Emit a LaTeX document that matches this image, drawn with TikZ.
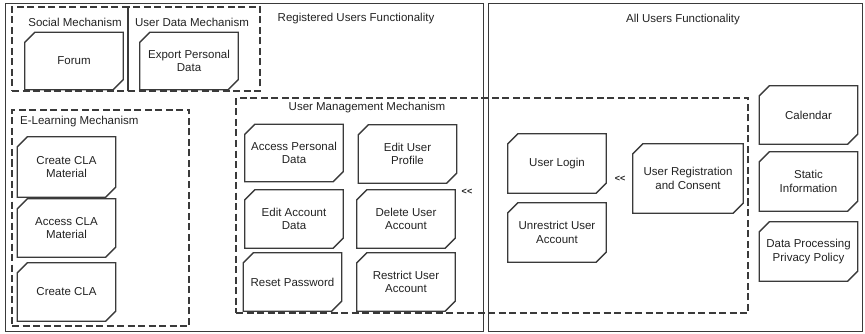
\documentclass[tikz,border=0pt]{standalone}
\usepackage{fontspec}
\setmainfont{Liberation Sans}
\definecolor{ln}{HTML}{3A3A3A}
\definecolor{tx}{HTML}{222222}
\tikzset{
  fnline/.style={draw=ln, line width=1.3pt, line join=miter},
  fn/.style={rectangle, minimum width=98pt, minimum height=58pt, inner sep=2pt, align=center,
    font=\fontsize{11.5}{13.6}\selectfont, text=tx,
    append after command={\pgfextra{\draw[fnline]
      ([yshift=-10pt]\tikzlastnode.north west) -- ([xshift=10pt]\tikzlastnode.north west)
      -- (\tikzlastnode.north east) -- ([yshift=10pt]\tikzlastnode.south east)
      -- ([xshift=-10pt]\tikzlastnode.south east) -- (\tikzlastnode.south west) -- cycle;}}},
  cont/.style={rectangle, draw=ln, line width=1.4pt, dash pattern=on 7pt off 3.5pt, inner sep=0pt},
  frame/.style={rectangle, draw=ln, line width=1pt, inner sep=0pt},
  lbl/.style={inner sep=0pt, font=\fontsize{11.5}{13.6}\selectfont, text=tx},
  chev/.style={inner sep=0pt, font=\bfseries\fontsize{9}{9}\selectfont, text=tx}
}
\begin{document}
\begin{tikzpicture}[x=1pt,y=-1pt]
\useasboundingbox (0,0) rectangle (865,334);
% outer frames
\node[frame, minimum width=478pt, minimum height=327pt] (reg) at (244,167.5) {};
\node[frame, minimum width=374pt, minimum height=327pt] (all) at (675,167.5) {};
% dashed containers
\node[cont, minimum width=116pt, minimum height=84pt] (soc) at (70,49) {};
\node[cont, minimum width=132pt, minimum height=84pt] (udm) at (194,49) {};
\node[cont, minimum width=177pt, minimum height=216pt] (elm) at (100.5,218) {};
\node[cont, minimum width=512pt, minimum height=215pt] (umm) at (492,205.5) {};
% labels
\node[lbl] (treg) at (356,19) {Registered Users Functionality};
\node[lbl] (tall) at (683,20) {All Users Functionality};
\node[lbl] (tsoc) at (75,22) {Social Mechanism};
\node[lbl] (tudm) at (192,22) {User Data Mechanism};
\node[lbl, anchor=west] (telm) at (20,122) {E-Learning Mechanism};
\node[lbl] (tumm) at (367,108) {User Management Mechanism};
% function boxes
\node[fn, minimum height=57pt] (forum) at (74,61) {Forum};
\node[fn, minimum height=57pt] (export) at (189,61) {Export Personal\\Data};
\node[fn, minimum height=60pt] (ccm) at (66.5,167) {Create CLA\\Material};
\node[fn] (acm) at (66.5,228) {Access CLA\\Material};
\node[fn] (cla) at (66.5,292) {Create CLA};
\node[fn, minimum height=57pt] (apd) at (294,153) {Access Personal\\Data};
\node[fn] (eup) at (407.5,154) {Edit User\\Profile};
\node[fn] (ead) at (294,219) {Edit Account\\Data};
\node[fn] (dua) at (406,219) {Delete User\\Account};
\node[fn] (rp) at (292.5,282) {Reset Password};
\node[fn] (rua) at (406,282) {Restrict User\\Account};
\node[fn, minimum height=59pt] (login) at (557,163.5) {User Login};
\node[fn, minimum height=59pt] (unr) at (557,232.5) {Unrestrict User\\Account};
\node[fn, minimum width=110pt, minimum height=69pt] (ureg) at (688,178.5) {User Registration\\and Consent};
\node[fn, minimum height=58pt] (cal) at (808.5,115) {Calendar};
\node[fn, minimum height=59pt] (stat) at (808.5,181.5) {Static\\Information};
\node[fn, minimum height=59pt] (dpp) at (808.5,251.5) {Data Processing\\Privacy Policy};
% chevrons
\node[chev] (ch1) at (467,192) {<{}<};
\node[chev] (ch2) at (620,179) {<{}<};
\end{tikzpicture}
\end{document}
